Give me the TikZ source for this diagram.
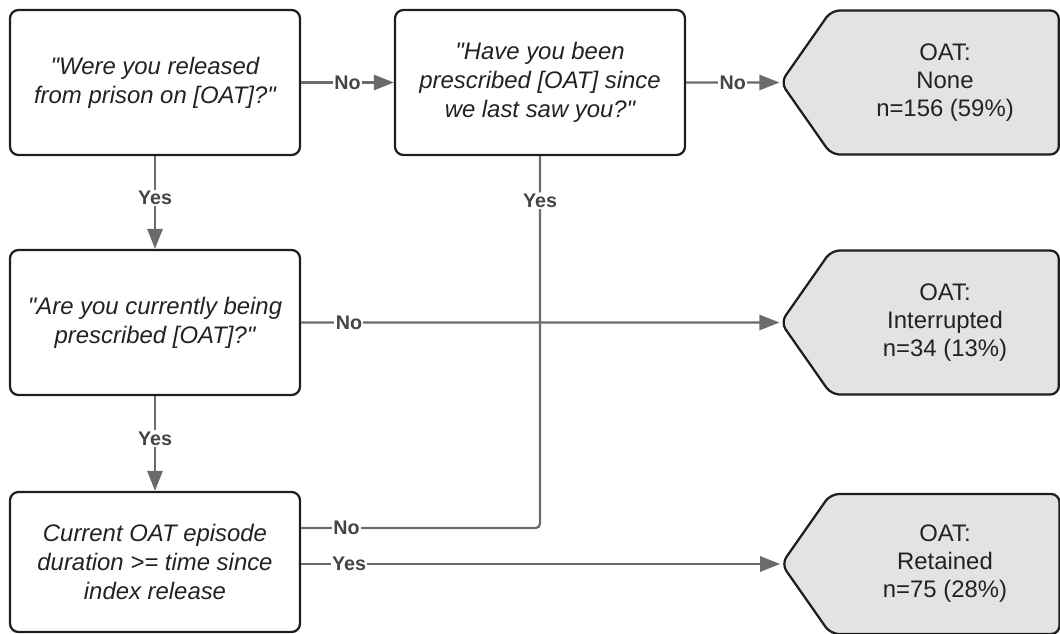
\documentclass[tikz,border=0pt]{standalone}
\usepackage{fontspec}
\defaultfontfeatures[\rmfamily]{}
\setmainfont{Liberation Sans}
\usetikzlibrary{shapes.symbols,arrows.meta}
\definecolor{flowline}{HTML}{6B6B6B}
\definecolor{flowtext}{HTML}{454545}
\definecolor{endfill}{HTML}{E3E3E3}
\definecolor{boxline}{HTML}{1E1E1E}
\definecolor{boxtext}{HTML}{222222}
\tikzset{
  question/.style={draw=boxline, rounded corners=6pt, line width=1.6pt,
                   minimum width=7.25cm, minimum height=3.625cm, inner sep=2pt,
                   align=center, text=boxtext, font=\fontsize{17}{20.5}\selectfont\itshape},
  outcome/.style={shape=signal, signal to=west, signal from=nowhere,
                  signal pointer angle=110, draw=boxline, fill=endfill,
                  rounded corners=6pt, line width=1.6pt, minimum width=6.95cm,
                  minimum height=3.6cm, align=center, text=boxtext,
                  font=\fontsize{17}{20}\selectfont},
  flow/.style={draw=flowline, line width=1.6pt},
  flowarrow/.style={flow, -{Triangle[length=0.5cm,width=0.38cm]}},
  answer/.style={fill=white, inner sep=1pt, text=flowtext,
                 font=\fontsize{14}{14}\selectfont\bfseries},
}

\begin{document}
\begin{tikzpicture}
      \useasboundingbox (0,0) rectangle (26.5,-15.85);

      % --- questions ---
      \node[question] (released)   at (3.875,-2.0625) {"Were you released\\from prison on [OAT]?"};
      \node[question] (prescribed) at (13.5,-2.0625)  {"Have you been\\prescribed [OAT] since\\we last saw you?"};
      \node[question] (current)    at (3.875,-8.0625) {"Are you currently being\\prescribed [OAT]?"};
      \node[question, minimum height=3.5cm] (duration) at (3.875,-14.05)
            {Current OAT episode\\duration >= time since\\index release};

      % --- outcomes ---
      \node[outcome] (none)        at (23.625,-2.0625) {OAT:\\None\\n=156 (59\%)};
      \node[outcome] (interrupted) at (23.625,-8.0625) {OAT:\\Interrupted\\n=34 (13\%)};
      \node[outcome, minimum height=3.5cm] (retained) at (23.625,-14.1) {OAT:\\Retained\\n=75 (28\%)};

      % --- connectors ---
      \draw[flowarrow] (released)   -- node[answer]{No} (prescribed);
      \draw[flowarrow] (prescribed) -- node[answer]{No} (none);
      \draw[flowarrow] (released)   -- node[answer, pos=0.45]{Yes} (current);
      \draw[flowarrow] (current)    -- node[answer, pos=0.45]{Yes} (duration);
      \draw[flowarrow] (current)    -- node[answer, pos=0.1]{No} (interrupted);
      \draw[flowarrow] (duration.east |- retained.west) -- node[answer, pos=0.1]{Yes} (retained.west);
      \coordinate (durno) at ([yshift=0.85cm]duration.east);
      \draw[flow, rounded corners=3pt] (prescribed.south)
            -- node[answer, pos=0.12]{Yes} (prescribed.south |- durno)
            -- node[answer, pos=0.81]{No} (durno);
\end{tikzpicture}
\end{document}
